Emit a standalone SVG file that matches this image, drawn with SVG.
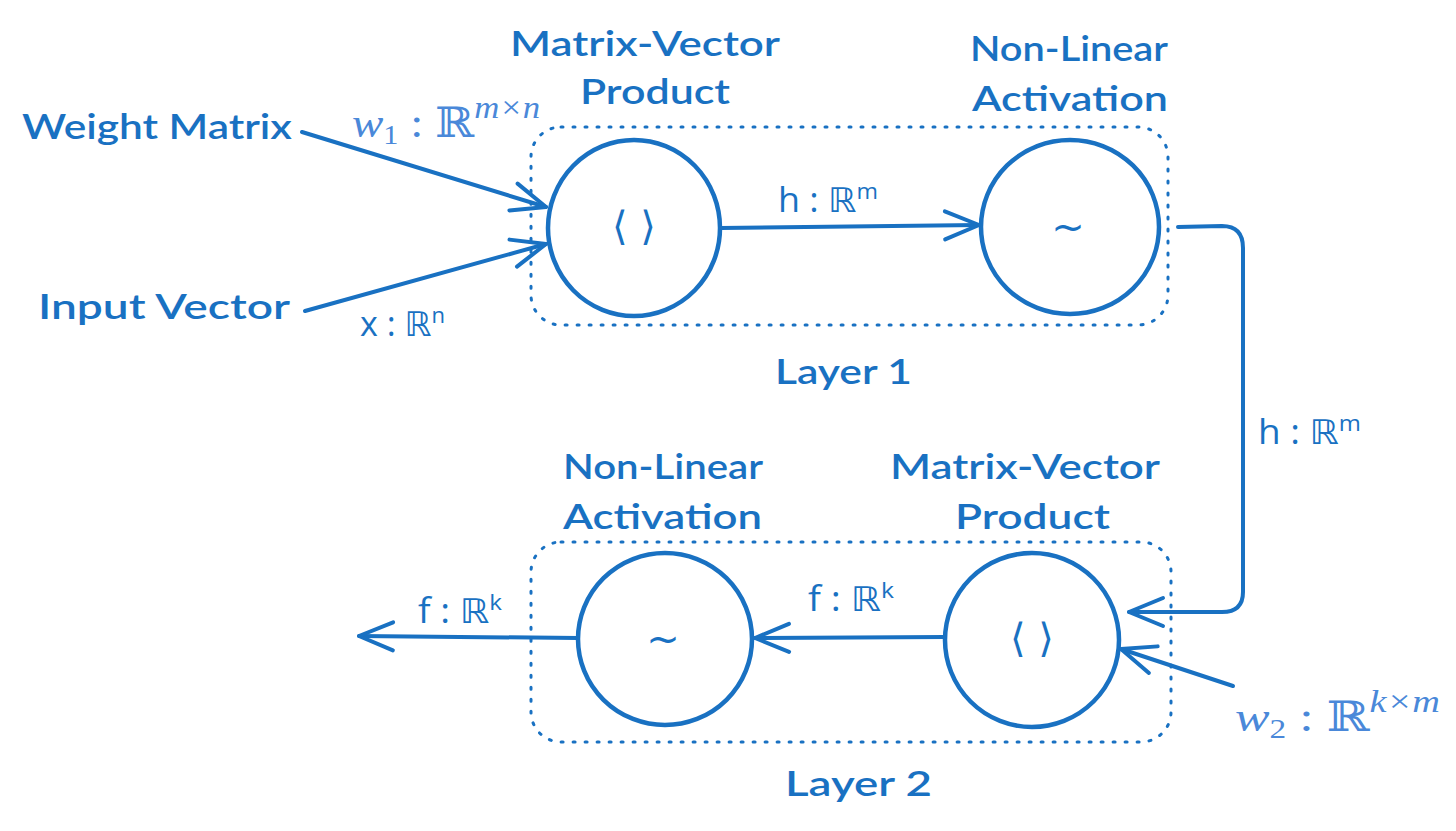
<svg xmlns="http://www.w3.org/2000/svg" width="1456" height="831" viewBox="0 0 1456 831">
<style>
.hand{font-family:"Lato","Open Sans",sans-serif;font-size:35px;font-weight:600;fill:#1971c2;}
.math{font-family:"Open Sans","DejaVu Sans",sans-serif;font-size:34px;fill:#1971c2;}
.tex{font-family:"Liberation Serif","DejaVu Serif",serif;font-size:42px;fill:#4a88d9;}
.node{fill:none;stroke:#1971c2;stroke-width:4.5;}
.sym{font-family:"DejaVu Sans",sans-serif;font-size:40px;fill:#1971c2;text-anchor:middle;}
.group{fill:none;stroke:#1971c2;stroke-width:3;stroke-dasharray:2 10;stroke-linecap:round;}
.edge{fill:none;stroke:#1971c2;stroke-width:4;stroke-linecap:round;stroke-linejoin:round;}
</style>
<defs>
<marker id="ah" viewBox="-40 -20 44 40" refX="0" refY="0" markerWidth="44" markerHeight="40" markerUnits="userSpaceOnUse" orient="auto">
<path d="M-34,-14 L0,0 L-34,14" fill="none" stroke="#1971c2" stroke-width="4" stroke-linecap="round" stroke-linejoin="round"/>
</marker>
</defs>
<rect width="1456" height="831" fill="#ffffff"/>

<g id="layer1">
<rect class="group" x="531" y="127" width="637" height="198" rx="30"/>
<text class="hand" x="775" y="384" textLength="137" lengthAdjust="spacingAndGlyphs">Layer 1</text>
</g>
<g id="layer2">
<rect class="group" x="531" y="542" width="640" height="200" rx="30"/>
<text class="hand" x="785" y="796" textLength="147" lengthAdjust="spacingAndGlyphs">Layer 2</text>
</g>

<g id="weight-matrix">
<text class="hand" x="22" y="139" textLength="270" lengthAdjust="spacingAndGlyphs">Weight Matrix</text>
</g>
<g id="input-vector">
<text class="hand" x="38" y="319" textLength="252" lengthAdjust="spacingAndGlyphs">Input Vector</text>
</g>

<g id="mv1">
<ellipse class="node" cx="634" cy="228" rx="86" ry="88"/>
<text class="sym" x="634" y="240">⟨ ⟩</text>
<text class="hand" x="510" y="56" textLength="270" lengthAdjust="spacingAndGlyphs">Matrix-Vector</text>
<text class="hand" x="580" y="104" textLength="150" lengthAdjust="spacingAndGlyphs">Product</text>
</g>
<g id="nl1">
<ellipse class="node" cx="1070" cy="227" rx="89" ry="87"/>
<text class="sym" x="1068" y="241">~</text>
<text class="hand" x="970" y="61" textLength="198" lengthAdjust="spacingAndGlyphs">Non-Linear</text>
<text class="hand" x="972" y="111" textLength="196" lengthAdjust="spacingAndGlyphs">Activation</text>
</g>
<g id="mv2">
<ellipse class="node" cx="1032" cy="640" rx="87" ry="87"/>
<text class="sym" x="1032" y="652">⟨ ⟩</text>
<text class="hand" x="890" y="479" textLength="270" lengthAdjust="spacingAndGlyphs">Matrix-Vector</text>
<text class="hand" x="955" y="529" textLength="155" lengthAdjust="spacingAndGlyphs">Product</text>
</g>
<g id="nl2">
<ellipse class="node" cx="665" cy="639" rx="87" ry="86"/>
<text class="sym" x="663" y="653">~</text>
<text class="hand" x="563" y="479" textLength="200" lengthAdjust="spacingAndGlyphs">Non-Linear</text>
<text class="hand" x="563" y="529" textLength="199" lengthAdjust="spacingAndGlyphs">Activation</text>
</g>

<g id="connectors">
<path class="edge" stroke-width="5" d="M302,132 L546,207" marker-end="url(#ah)"/>
<path class="edge" d="M305,311 L546,244" marker-end="url(#ah)"/>
<path class="edge" stroke-width="5" d="M721,228 L979,225" marker-end="url(#ah)"/>
<path class="edge" d="M1178,227 L1222,226 Q1243,226 1243,248 L1243,592 Q1243,612 1222,612 L1129,612" marker-end="url(#ah)"/>
<path class="edge" d="M945,637 L755,638" marker-end="url(#ah)"/>
<path class="edge" stroke-width="5" d="M578,638 L359,636" marker-end="url(#ah)"/>
<path class="edge" stroke-width="5" d="M1233,686 L1121,649" marker-end="url(#ah)"/>

<text class="tex" x="352" y="137" textLength="188" lengthAdjust="spacingAndGlyphs"><tspan font-style="italic">w</tspan><tspan font-size="27" dy="7">1</tspan><tspan dy="-7"> : </tspan><tspan font-family="DejaVu Serif">ℝ</tspan><tspan font-style="italic" font-size="31" dy="-19">m×n</tspan></text>
<text class="math" x="360" y="336" textLength="85" lengthAdjust="spacingAndGlyphs">x : ℝ<tspan font-size="22" dy="-13">n</tspan></text>
<text class="math" x="778" y="212" textLength="100" lengthAdjust="spacingAndGlyphs">h : ℝ<tspan font-size="22" dy="-13">m</tspan></text>
<text class="math" x="1258" y="444" textLength="103" lengthAdjust="spacingAndGlyphs">h : ℝ<tspan font-size="22" dy="-13">m</tspan></text>
<text class="math" x="808" y="611" textLength="86" lengthAdjust="spacingAndGlyphs">f : ℝ<tspan font-size="22" dy="-13">k</tspan></text>
<text class="math" x="418" y="623" textLength="84" lengthAdjust="spacingAndGlyphs">f : ℝ<tspan font-size="22" dy="-13">k</tspan></text>
<text class="tex" x="1235" y="731" textLength="205" lengthAdjust="spacingAndGlyphs"><tspan font-style="italic">w</tspan><tspan font-size="27" dy="7">2</tspan><tspan dy="-7"> : </tspan><tspan font-family="DejaVu Serif">ℝ</tspan><tspan font-style="italic" font-size="31" dy="-19">k×m</tspan></text>
</g>
</svg>
